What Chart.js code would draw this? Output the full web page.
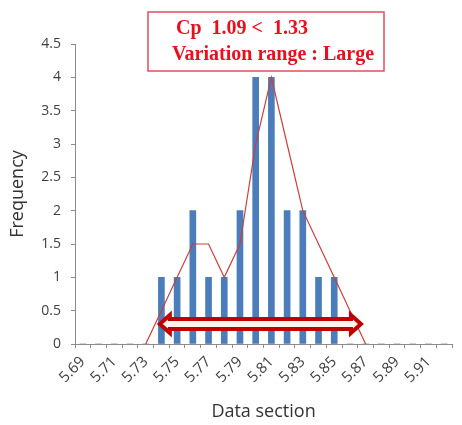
<!DOCTYPE html>
<html>
<head>
<meta charset="utf-8">
<script src="https://cdn.jsdelivr.net/npm/chart.js@4/dist/chart.umd.min.js"></script>
<style>
  body { margin: 0; background: #fff; }
  #chart { display: block; }
</style>
</head>
<body>
<canvas id="chart" width="462" height="425"></canvas>
<script>
// x categories (data section), one per 0.01
const categories = ['5.69', '5.70', '5.71', '5.72', '5.73', '5.74', '5.75', '5.76', '5.77', '5.78', '5.79', '5.80',
  '5.81', '5.82', '5.83', '5.84', '5.85', '5.86', '5.87', '5.88', '5.89', '5.90', '5.91', '5.92'];
// bar heights
const frequency = [0, 0, 0, 0, 0, 1, 1, 2, 1, 1, 2, 4, 4, 2, 2, 1, 1, 0, 0, 0, 0, 0, 0, 0];
// hand drawn distribution outline
const outline = [null, null, null, null, 0, 0.5, 1, 1.5, 1.5, 1, 1.5, 3, 4, 3, 2, 1.5, 1, 0.5, 0, null, null, null, null, null];
const yTicks = [0, 0.5, 1, 1.5, 2, 2.5, 3, 3.5, 4, 4.5];
// variation range arrow (data units) and note text
const rangeFrom = 5.739;
const rangeTo = 5.867;
const rangeLevel = 0.3;
const noteLines = ['Cp  1.09 <  1.33', 'Variation range : Large'];

const tickFont = { family: '"Open Sans", sans-serif', size: 14 };
const titleFont = { family: '"Open Sans", sans-serif', size: 18 };

const toIndex = v => (v - parseFloat(categories[0])) / 0.01;

const notePlugin = {
  id: 'note',
  afterDraw(chart) {
    const ctx = chart.ctx;
    const x = chart.scales.x, y = chart.scales.y;

    // double arrow
    const x1 = x.getPixelForValue(toIndex(rangeFrom));
    const x2 = x.getPixelForValue(toIndex(rangeTo));
    const cy = y.getPixelForValue(rangeLevel);
    const sh = 5, hh = 9, hl = 10;
    ctx.save();
    ctx.beginPath();
    ctx.moveTo(x1, cy);
    ctx.lineTo(x1 + hl, cy - hh);
    ctx.lineTo(x1 + hl, cy - sh);
    ctx.lineTo(x2 - hl, cy - sh);
    ctx.lineTo(x2 - hl, cy - hh);
    ctx.lineTo(x2, cy);
    ctx.lineTo(x2 - hl, cy + hh);
    ctx.lineTo(x2 - hl, cy + sh);
    ctx.lineTo(x1 + hl, cy + sh);
    ctx.lineTo(x1 + hl, cy + hh);
    ctx.closePath();
    ctx.fillStyle = '#fff4ec';
    ctx.fill();
    ctx.lineWidth = 4;
    ctx.lineJoin = 'miter';
    ctx.strokeStyle = '#c00000';
    ctx.stroke();

    // text box
    ctx.fillStyle = '#fff';
    ctx.fillRect(148, 12, 236, 59);
    ctx.lineWidth = 1.5;
    ctx.strokeStyle = '#e0505c';
    ctx.strokeRect(148, 12, 236, 59);
    ctx.fillStyle = '#e8101c';
    ctx.textBaseline = 'alphabetic';
    ctx.font = 'bold 20px "Liberation Serif", serif';
    ctx.fillText(noteLines[0], 176, 34);
    ctx.fillText(noteLines[1], 172, 60);
    ctx.restore();
  }
};

new Chart(document.getElementById('chart'), {
  type: 'bar',
  data: {
    labels: categories,
    datasets: [{
      type: 'line',
      data: outline,
      borderColor: '#c8403c',
      borderWidth: 1.2,
      pointRadius: 0,
      tension: 0,
      order: 0
    }, {
      data: frequency,
      backgroundColor: '#4a7dba',
      barThickness: 6,
      order: 1
    }]
  },
  options: {
    responsive: false,
    animation: false,
    layout: { padding: { top: 44, right: 3, left: 0, bottom: 0 } },
    plugins: { legend: { display: false }, tooltip: { enabled: false } },
    scales: {
      x: {
        offset: true,
        grid: { offset: true, drawOnChartArea: false, tickLength: 4, color: '#8c8c8c' },
        border: { color: '#8c8c8c' },
        ticks: {
          autoSkip: false, minRotation: 45, maxRotation: 45, color: '#404040',
          font: { family: '"Open Sans", sans-serif', size: 15 }, padding: 5,
          callback: (v, i) => i % 2 === 0 ? categories[i] : ''
        },
        title: { display: true, text: 'Data section', color: '#333', font: titleFont, padding: { top: 0, bottom: 2 } },
        afterFit: s => { s.height = 81; }
      },
      y: {
        min: 0,
        max: 4.5,
        afterBuildTicks: s => { s.ticks = yTicks.map(v => ({ value: v })); },
        grid: { drawOnChartArea: false, tickLength: 4, color: '#8c8c8c' },
        border: { color: '#8c8c8c' },
        ticks: { color: '#404040', font: tickFont, padding: 10, callback: v => String(v) },
        title: { display: true, text: 'Frequency', color: '#333', font: titleFont, padding: { top: 7, bottom: 0 } },
        afterFit: s => { s.width = 75; }
      }
    }
  },
  plugins: [notePlugin]
});
</script>
</body>
</html>
